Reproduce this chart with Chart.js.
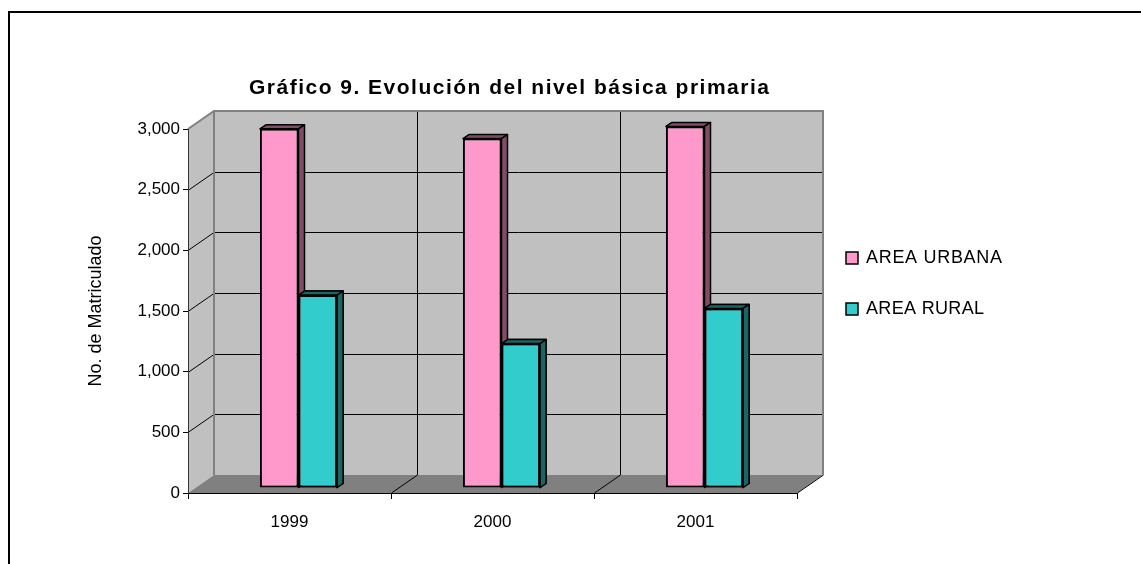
<!DOCTYPE html>
<html>
<head>
<meta charset="utf-8">
<script src="https://cdn.jsdelivr.net/npm/chart.js@4.4.1/dist/chart.umd.min.js"></script>
<style>
  html, body { margin: 0; padding: 0; background: #fff; }
  #wrap { width: 1141px; height: 564px; }
</style>
</head>
<body>
<div id="wrap"><canvas id="chart" width="1141" height="564"></canvas></div>
<script>
// Data
const years = ['1999', '2000', '2001'];
const urbana = [2960, 2880, 2980];
const rural = [1590, 1190, 1480];
const seriesNames = ['AREA URBANA', 'AREA RURAL'];
const yMax = 3000;
const yStep = 500;
const chartTitle = 'Gráfico 9. Evolución del nivel básica primaria';
const yTitle = 'No. de Matriculado';

const pink = '#FF99CC';
const teal = '#33CCCC';
const pinkSide = '#804D66';
const tealSide = '#1A6666';
const FONT = 'Arial, "Liberation Sans", sans-serif';

// depth of the 3D box and of the bars
const DX = 26, DY = -18;   // back wall offset
const BX = 9, BY = -5;     // bars front face offset
const BDX = 6, BDY = -4;   // bar thickness

// top and right faces of each bar of one dataset
function drawFaces(ctx, meta, sideColor) {
    ctx.save();
    ctx.lineWidth = 1.5;
    ctx.strokeStyle = '#000';
    ctx.lineJoin = 'round';
    ctx.fillStyle = sideColor;
    meta.data.forEach(bar => {
        const p = bar.getProps(['x', 'y', 'width', 'base'], true);
        const l = p.x - p.width / 2, r = p.x + p.width / 2;
        ctx.beginPath();
        ctx.moveTo(l, p.y);
        ctx.lineTo(l + BDX, p.y + BDY);
        ctx.lineTo(r + BDX, p.y + BDY);
        ctx.lineTo(r, p.y);
        ctx.closePath();
        ctx.fill();
        ctx.stroke();
        ctx.beginPath();
        ctx.moveTo(r, p.y);
        ctx.lineTo(r + BDX, p.y + BDY);
        ctx.lineTo(r + BDX, p.base + BDY);
        ctx.lineTo(r, p.base);
        ctx.closePath();
        ctx.fill();
        ctx.stroke();
    });
    ctx.restore();
}

// 3D walls, floor, frame, title and legend
const box3d = {
    id: 'box3d',
    beforeDraw(chart) {
        const ctx = chart.ctx;
        const a = chart.chartArea;
        const x = chart.scales.x;
        const y = chart.scales.y;
        const top = y.getPixelForValue(yMax);
        const bot = y.getPixelForValue(0);

        ctx.save();
        // frame
        ctx.fillStyle = '#000';
        ctx.fillRect(8, 11, 1141, 2);
        ctx.fillRect(8, 11, 2, 564);

        // side wall
        ctx.fillStyle = '#C0C0C0';
        ctx.beginPath();
        ctx.moveTo(a.left, top);
        ctx.lineTo(a.left + DX, top + DY);
        ctx.lineTo(a.left + DX, bot + DY);
        ctx.lineTo(a.left, bot);
        ctx.closePath();
        ctx.fill();
        // back wall
        ctx.fillRect(a.left + DX, top + DY, a.right - a.left, bot - top);
        // floor
        ctx.fillStyle = '#808080';
        ctx.beginPath();
        ctx.moveTo(a.left, bot);
        ctx.lineTo(a.left + DX, bot + DY);
        ctx.lineTo(a.right + DX, bot + DY);
        ctx.lineTo(a.right, bot);
        ctx.closePath();
        ctx.fill();

        // horizontal gridlines
        ctx.lineWidth = 1;
        ctx.strokeStyle = '#000';
        y.ticks.forEach(t => {
            if (t.value <= 0 || t.value >= yMax) return;
            const py = Math.round(y.getPixelForValue(t.value)) + 0.5;
            ctx.beginPath();
            ctx.moveTo(a.left, py);
            ctx.lineTo(a.left + DX, py + DY);
            ctx.lineTo(a.right + DX, py + DY);
            ctx.stroke();
        });
        // category separators on the back wall and floor
        for (let i = 1; i <= years.length; i++) {
            const px = i < years.length
                ? Math.round((x.getPixelForTick(i - 1) + x.getPixelForTick(i)) / 2) + 0.5
                : a.right + 0.5;
            ctx.beginPath();
            ctx.moveTo(px, bot);
            ctx.lineTo(px + DX, bot + DY);
            if (i < years.length) ctx.lineTo(px + DX, top + DY);
            ctx.stroke();
        }
        // wall edges
        ctx.strokeStyle = '#808080';
        ctx.lineWidth = 2;
        ctx.beginPath();
        ctx.moveTo(a.left, top);
        ctx.lineTo(a.left + DX, top + DY);
        ctx.lineTo(a.right + DX, top + DY);
        ctx.lineTo(a.right + DX, bot + DY);
        ctx.moveTo(a.left + DX, top + DY);
        ctx.lineTo(a.left + DX, bot + DY);
        ctx.stroke();

        // title
        ctx.fillStyle = '#000';
        ctx.font = 'bold 21px ' + FONT;
        ctx.textBaseline = 'alphabetic';
        ctx.textAlign = 'left';
        const w0 = ctx.measureText(chartTitle).width;
        ctx.letterSpacing = ((520 - w0) / (chartTitle.length - 1)).toFixed(2) + 'px';
        ctx.fillText(chartTitle, 249, 94);

        // legend
        ctx.font = '18px ' + FONT;
        ctx.letterSpacing = '0px';
        ctx.textBaseline = 'middle';
        chart.data.datasets.forEach((ds, i) => {
            const ly = 252 + i * 51;
            ctx.fillStyle = ds.backgroundColor;
            ctx.fillRect(846, ly, 12, 12);
            ctx.strokeStyle = '#000';
            ctx.lineWidth = 1.5;
            ctx.strokeRect(846, ly, 12, 12);
            ctx.fillStyle = '#000';
            const lw = ctx.measureText(ds.label).width;
            const target = i === 0 ? 136 : 118;
            ctx.letterSpacing = ((target - lw) / (ds.label.length - 1)).toFixed(2) + 'px';
            ctx.fillText(ds.label, 866, ly + 6);
            ctx.letterSpacing = '0px';
        });
        ctx.restore();
    },
    beforeDatasetsDraw(chart) {
        chart.ctx.save();
        chart.ctx.translate(BX, BY);
    },
    afterDatasetDraw(chart, args) {
        const ctx = chart.ctx;
        drawFaces(ctx, args.meta, chart.data.datasets[args.index].sideColor);
        // datasets are painted last-first, so lay the right-hand series over again
        if (args.index === 0) {
            for (let j = 1; j < chart.data.datasets.length; j++) {
                const m = chart.getDatasetMeta(j);
                m.data.forEach(bar => bar.draw(ctx));
                drawFaces(ctx, m, chart.data.datasets[j].sideColor);
            }
        }
    },
    afterDatasetsDraw(chart) {
        chart.ctx.restore();
    }
};

new Chart(document.getElementById('chart'), {
    type: 'bar',
    data: {
        labels: years,
        datasets: [
            {
                label: seriesNames[0],
                data: urbana,
                backgroundColor: pink,
                sideColor: pinkSide,
                borderColor: '#000',
                borderWidth: 2,
                borderSkipped: false
            },
            {
                label: seriesNames[1],
                data: rural,
                backgroundColor: teal,
                sideColor: tealSide,
                borderColor: '#000',
                borderWidth: 2,
                borderSkipped: false
            }
        ]
    },
    options: {
        responsive: false,
        animation: false,
        events: [],
        layout: {
            padding: { left: 0, top: 129, right: 344, bottom: 0 }
        },
        datasets: {
            bar: { categoryPercentage: 0.38, barPercentage: 1.0 }
        },
        scales: {
            x: {
                grid: { drawOnChartArea: false, tickLength: 6, color: '#000' },
                border: { color: '#000', width: 1 },
                ticks: { color: '#000', font: { family: FONT, size: 17 }, padding: 13 },
                afterFit(scale) { scale.height = 71; }
            },
            y: {
                min: 0,
                max: yMax,
                grid: { drawOnChartArea: false, tickLength: 5, color: '#000' },
                border: { color: '#333', width: 1 },
                ticks: {
                    stepSize: yStep,
                    color: '#000',
                    font: { family: FONT, size: 17 },
                    padding: 3,
                    callback: v => v.toLocaleString('en-US')
                },
                title: {
                    display: true,
                    text: yTitle,
                    color: '#000',
                    font: { family: FONT, size: 18 },
                    padding: { top: 85, bottom: 0 }
                },
                afterFit(scale) { scale.width = 188; }
            }
        },
        plugins: {
            legend: { display: false },
            title: { display: false },
            tooltip: { enabled: false }
        }
    },
    plugins: [box3d]
});
</script>
</body>
</html>
